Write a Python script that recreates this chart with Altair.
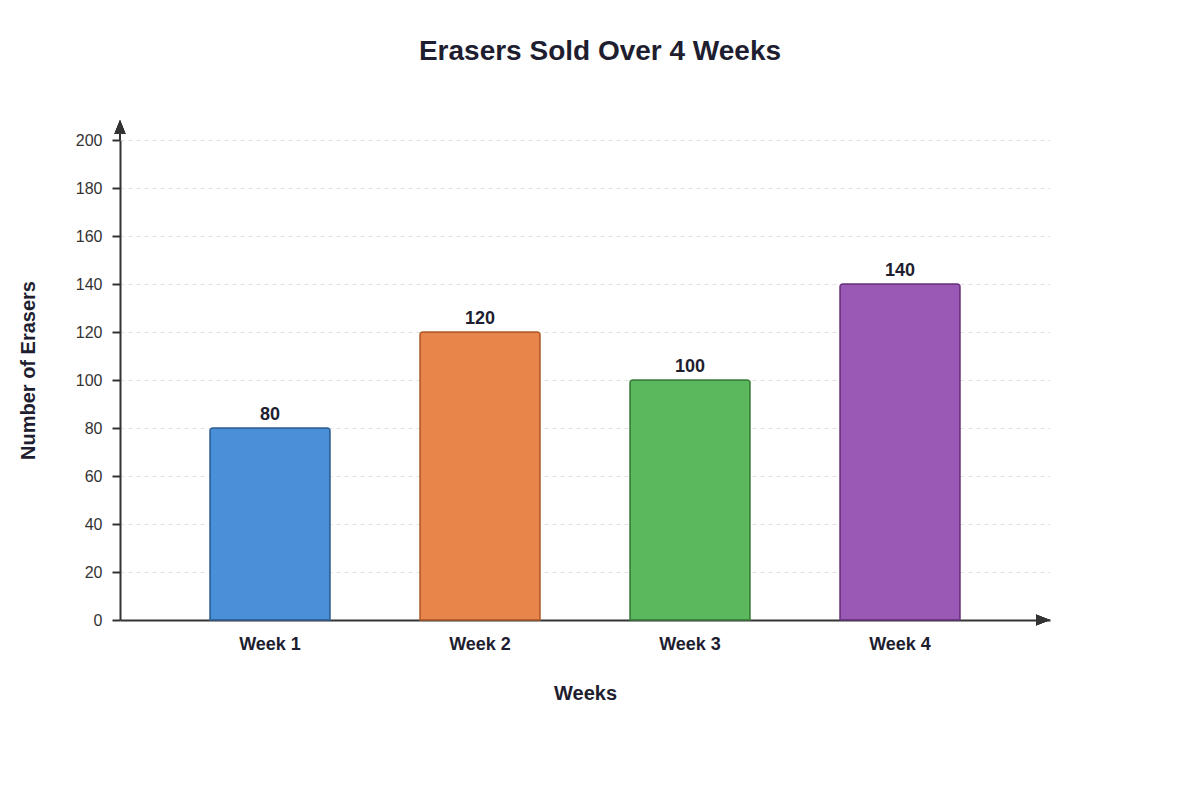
import pandas as pd
import altair as alt

# data
weeks = ['Week 1', 'Week 2', 'Week 3', 'Week 4']
erasers = [80, 120, 100, 140]
fills = ['#4a90d9', '#e8854a', '#5cb85c', '#9b59b6']
strokes = ['#2f6296', '#b35d2c', '#3b7f3b', '#6c3483']

df = pd.DataFrame({'week': weeks, 'erasers': erasers})

FONT = 'Liberation Sans'
DARK = '#1e1e30'

x_enc = alt.X('week:N', sort=weeks,
              scale=alt.Scale(paddingInner=3 / 7, paddingOuter=3 / 7),
              axis=alt.Axis(title='Weeks', labelAngle=0, ticks=False, tickSize=0,
                            labelPadding=15, labelFontSize=18, labelFontWeight='bold',
                            labelColor=DARK, titleFontSize=20, titleFontWeight='bold',
                            titleColor=DARK, titlePadding=30, grid=False,
                            domainColor='#333333', domainWidth=2))
y_enc = alt.Y('erasers:Q', scale=alt.Scale(domain=[0, 200], nice=False),
              axis=alt.Axis(title='Number of Erasers', values=list(range(0, 201, 20)),
                            tickSize=8, tickColor='#333333', tickWidth=2,
                            labelPadding=10, labelFontSize=16, labelColor='#333333',
                            titleFontSize=20, titleFontWeight='bold', titleColor=DARK,
                            titleX=-86, titleY=230, titleBaseline='alphabetic',
                            grid=True, gridColor='#e2e2e2', gridDash=[4, 4], gridWidth=1,
                            domainColor='#333333', domainWidth=2))

base = alt.Chart(df).encode(x=x_enc, y=y_enc)

bars = base.mark_bar(strokeWidth=1.5, cornerRadiusTopLeft=3, cornerRadiusTopRight=3).encode(
    color=alt.Color('week:N', scale=alt.Scale(domain=weeks, range=fills), legend=None),
    stroke=alt.Stroke('week:N', scale=alt.Scale(domain=weeks, range=strokes), legend=None),
)

labels = base.mark_text(dy=-8, baseline='alphabetic', fontSize=18, fontWeight='bold',
                        color=DARK, font=FONT).encode(text='erasers:Q')

# axis arrows
y_line = alt.Chart(df).mark_rule(color='#333333', strokeWidth=2).encode(
    x=alt.value(0), y=alt.value(-14), y2=alt.value(0))
y_arrow = alt.Chart(df).mark_point(shape='M-0.8,1L0,-1L0.8,1Z', filled=True,
                                   opacity=1, color='#333333', size=196).encode(
    x=alt.value(0), y=alt.value(-13))
x_arrow = alt.Chart(df).mark_point(shape='M-1,-0.8L1,0L-1,0.8Z', filled=True,
                                   opacity=1, color='#333333', size=196).encode(
    x=alt.value(923), y=alt.value(480))

chart = alt.layer(bars, labels, y_line, y_arrow, x_arrow).properties(
    width=930,
    height=480,
    autosize=alt.AutoSizeParams(type='none'),
    padding={'left': 112, 'top': 132, 'right': 142, 'bottom': 172},
    title=alt.TitleParams('Erasers Sold Over 4 Weeks', fontSize=28, fontWeight='bold',
                          color=DARK, anchor='middle', dx=15, offset=54, font=FONT),
).configure(
    font=FONT,
).configure_view(
    strokeWidth=0,
)

chart.save('out.html', embed_options={'renderer': 'svg', 'actions': False})
